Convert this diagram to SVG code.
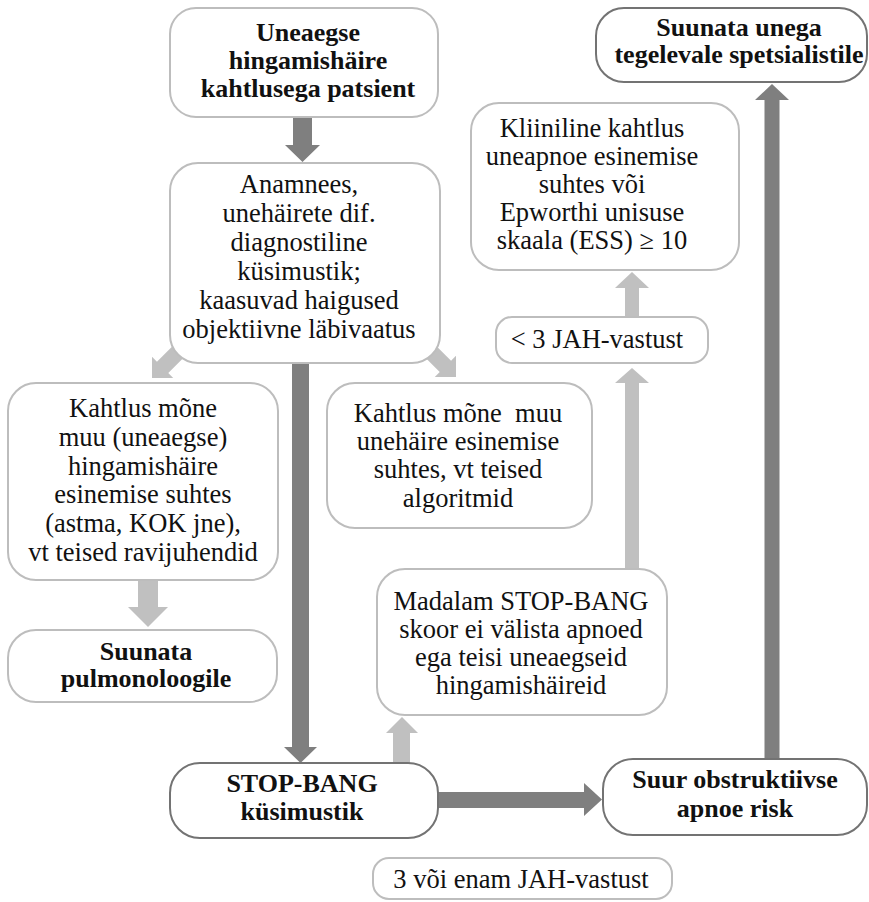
<svg xmlns="http://www.w3.org/2000/svg" width="869" height="902" viewBox="0 0 869 902">
<style>
.box{fill:#fff;stroke:#bdbdbd;stroke-width:2}
.dbox{fill:#fff;stroke:#737373;stroke-width:2}
.t{font-family:'Liberation Serif','Times New Roman',serif;font-size:26.5px;fill:#111;text-anchor:middle}
.b{font-family:'Liberation Serif','Times New Roman',serif;font-size:26px;font-weight:bold;fill:#111;text-anchor:middle}
.la{fill:#c0c0c0}
.da{fill:#7f7f7f}
</style>
<defs>
<path id="diag" d="M0,0 L-15,-15 L-15,-8 L-60,-8 L-60,8 L-15,8 L-15,15 Z"/>
</defs>
<rect width="869" height="902" fill="#fff"/>
<g id="connectors">
<path class="da" d="M293,117 H312 V145 H320 L302.5,162 L285,145 H293 Z"/>
<path class="da" d="M292,363 H309 V747 H317 L300.5,763 L284,747 H292 Z"/>
<path class="da" d="M438,792 H584 V783 L602,799.5 L584,816 V808 H438 Z"/>
<path class="da" d="M764.5,759 V100 H755 L772,84 L789,100 H779.5 V759 Z"/>
<use href="#diag" class="la" transform="translate(456,377) rotate(45)"/>
<use href="#diag" class="la" transform="translate(152,378) rotate(135)"/>
<path class="la" d="M138,580 H158 V607 H168 L148,627 L128,607 H138 Z"/>
<path class="la" d="M393,763 V733 H386 L402,717 L418,733 H410 V763 Z"/>
<path class="la" d="M625,569 V383 H615 L632,368 L649,383 H639 V569 Z"/>
<path class="la" d="M625,317 V288 H615 L632,272 L649,288 H639 V317 Z"/>
</g>
<g id="n1"><rect class="box" x="170" y="8" width="268" height="109" rx="26"/>
<text class="b"><tspan x="308" y="41">Uneaegse</tspan><tspan x="308" y="69">hingamishäire</tspan><tspan x="308" y="97">kahtlusega patsient</tspan></text></g>
<g id="n2"><rect class="box" x="170" y="163" width="270" height="200" rx="28"/>
<text class="t"><tspan x="299" y="193">Anamnees,</tspan><tspan x="299" y="222">unehäirete dif.</tspan><tspan x="299" y="251">diagnostiline</tspan><tspan x="299" y="280">küsimustik;</tspan><tspan x="299" y="309">kaasuvad haigused</tspan><tspan x="299" y="338">objektiivne läbivaatus</tspan></text></g>
<g id="n3"><rect class="box" x="8" y="383" width="270" height="197" rx="28"/>
<text class="t"><tspan x="143" y="417">Kahtlus mõne</tspan><tspan x="143" y="446">muu (uneaegse)</tspan><tspan x="143" y="475">hingamishäire</tspan><tspan x="143" y="503">esinemise suhtes</tspan><tspan x="143" y="532">(astma, KOK jne),</tspan><tspan x="143" y="561">vt teised ravijuhendid</tspan></text></g>
<g id="n4"><rect class="box" x="8" y="630" width="269" height="72" rx="28"/>
<text class="b"><tspan x="146" y="660">Suunata</tspan><tspan x="146" y="687">pulmonoloogile</tspan></text></g>
<g id="n5"><rect class="box" x="327" y="383" width="265" height="145" rx="28"/>
<text class="t" xml:space="preserve"><tspan x="458" y="422">Kahtlus mõne  muu</tspan><tspan x="458" y="450">unehäire esinemise</tspan><tspan x="458" y="478">suhtes, vt teised</tspan><tspan x="458" y="507">algoritmid</tspan></text></g>
<g id="n6"><rect class="box" x="377" y="569" width="290" height="146" rx="28"/>
<text class="t"><tspan x="521" y="610">Madalam STOP-BANG</tspan><tspan x="521" y="638">skoor ei välista apnoed</tspan><tspan x="521" y="666">ega teisi uneaegseid</tspan><tspan x="521" y="694">hingamishäireid</tspan></text></g>
<g id="n7"><rect class="box" x="496" y="317" width="212" height="46" rx="16"/>
<text class="t" x="597" y="348">&lt; 3 JAH-vastust</text></g>
<g id="n8"><rect class="box" x="471" y="103" width="268" height="167" rx="28"/>
<text class="t"><tspan x="592" y="137">Kliiniline kahtlus</tspan><tspan x="592" y="165">uneapnoe esinemise</tspan><tspan x="592" y="193">suhtes või</tspan><tspan x="592" y="221">Epworthi unisuse</tspan><tspan x="592" y="249">skaala (ESS) ≥ 10</tspan></text></g>
<g id="n9"><rect class="dbox" x="596" y="8" width="271" height="74" rx="28"/>
<text class="b"><tspan x="739" y="36">Suunata unega</tspan><tspan x="739" y="63">tegelevale spetsialistile</tspan></text></g>
<g id="n10"><rect class="dbox" x="170" y="763" width="268" height="75" rx="30"/>
<text class="b"><tspan x="302" y="792">STOP-BANG</tspan><tspan x="302" y="820">küsimustik</tspan></text></g>
<g id="n11"><rect class="dbox" x="603" y="759" width="264" height="76" rx="30"/>
<text class="b"><tspan x="735" y="788">Suur obstruktiivse</tspan><tspan x="735" y="817">apnoe risk</tspan></text></g>
<g id="n12"><rect class="box" x="373" y="858" width="299" height="41" rx="16"/>
<text class="t" x="521" y="888">3 või enam JAH-vastust</text></g>
</svg>
